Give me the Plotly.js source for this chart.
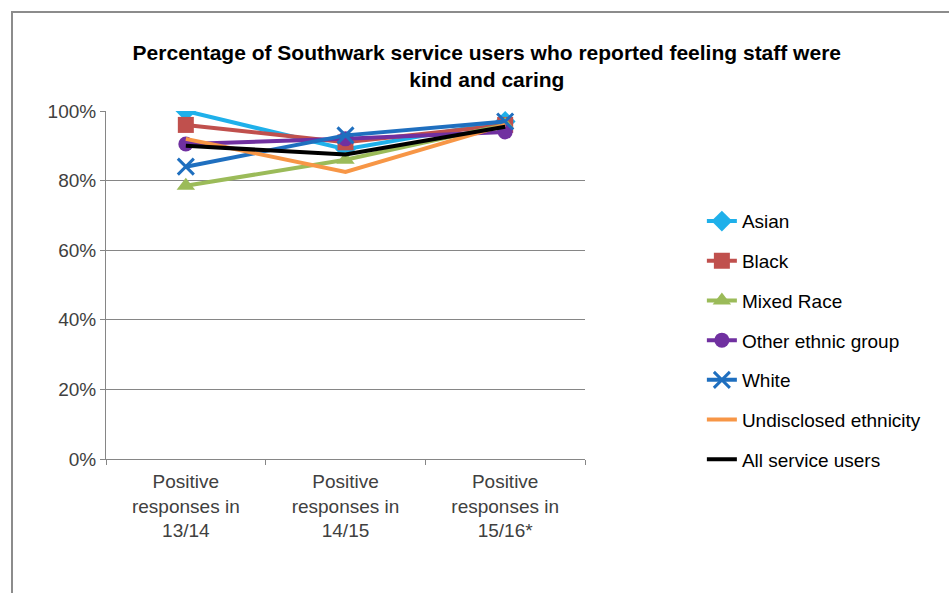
<!DOCTYPE html>
<html><head><meta charset="utf-8">
<script src="https://cdn.plot.ly/plotly-3.0.1.min.js"></script>
<style>
body{margin:0;padding:0;background:#fff;}
#chart{width:949px;height:593px;}
#frame{position:absolute;left:11px;top:11px;width:960px;height:600px;border-left:2px solid #8c8c8c;border-top:2px solid #8c8c8c;pointer-events:none;}
</style></head>
<body>
<div id="chart"></div>
<div id="frame"></div>
<script>
const categories = ["Positive<br>responses in<br>13/14", "Positive<br>responses in<br>14/15", "Positive<br>responses in<br>15/16*"];
const seriesNames = ["Asian", "Black", "Mixed Race", "Other ethnic group", "White", "Undisclosed ethnicity", "All service users"];
const asian = [1.00, 0.89, 0.97];
const black = [0.96, 0.91, 0.96];
const mixedRace = [0.785, 0.86, 0.96];
const otherEthnic = [0.905, 0.92, 0.94];
const white = [0.84, 0.93, 0.97];
const undisclosed = [0.92, 0.825, 0.96];
const allUsers = [0.90, 0.875, 0.955];

const values = [asian, black, mixedRace, otherEthnic, white, undisclosed, allUsers];
const colors = ["#1fb0ea", "#c0504d", "#9bbb59", "#7030a0", "#1f6fbf", "#f79646", "#000000"];
const symbols = ["diamond", "square", "triangle-up", "circle", "x-thin-open", null, null];
const sizes = [16, 16, 16, 15, 16, 0, 0];

const traces = values.map((v, i) => {
  const t = {
    x: categories, y: v, name: seriesNames[i], type: "scatter",
    mode: symbols[i] ? "lines+markers" : "lines",
    line: {color: colors[i], width: 4},
    legendgroup: "g" + i
  };
  if (symbols[i]) {
    t.marker = {symbol: symbols[i], size: sizes[i], color: colors[i], line: {color: colors[i], width: symbols[i] === "x-thin-open" ? 3 : 0}};
  }
  return t;
});

const layout = {
  width: 949, height: 593,
  margin: {l: 106, r: 364, t: 111, b: 134},
  paper_bgcolor: "#fff", plot_bgcolor: "#fff",
  font: {family: "Liberation Sans, Arial, sans-serif", color: "#404040", size: 19},
  title: {
    text: "<b>Percentage of Southwark service users who reported feeling staff were<br>kind and caring</b>",
    font: {family: "Liberation Sans, Arial, sans-serif", size: 21, color: "#000"},
    xref: "paper", x: 0.795, xanchor: "center",
    yref: "container", y: 1 - 60/593, yanchor: "middle"
  },
  xaxis: {
    type: "category", range: [-0.5, 2.5], showgrid: false, showline: true, linecolor: "#868686", linewidth: 1,
    ticks: "outside", tickson: "boundaries", ticklen: 5, tickcolor: "#868686", ticklabelstandoff: 5,
    tickfont: {size: 19, color: "#404040"}, zeroline: false
  },
  yaxis: {
    range: [0, 1], dtick: 0.2, tickformat: ".0%", showgrid: true, gridcolor: "#868686", gridwidth: 1,
    showline: true, linecolor: "#868686", linewidth: 1, ticks: "outside", ticklen: 5, tickcolor: "#868686",
    tickfont: {size: 19, color: "#404040"}, zeroline: false
  },
  legend: {
    x: 1.244, xanchor: "left", y: 0.738, yanchor: "top",
    font: {size: 19, color: "#000"}, tracegroupgap: 12, bgcolor: "rgba(0,0,0,0)"
  },
  showlegend: true
};

Plotly.newPlot("chart", traces, layout, {displayModeBar: false, staticPlot: true});
</script>
</body></html>
